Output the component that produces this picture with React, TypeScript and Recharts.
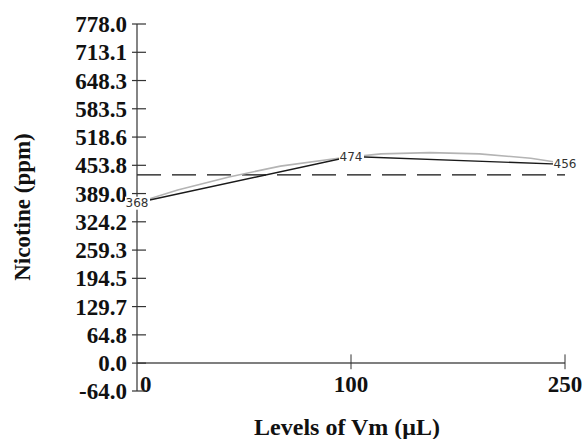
import { LineChart, Line, XAxis, YAxis, ReferenceLine, LabelList } from 'recharts'

// levels of Vm (µL), shown at equal spacing
const levels = ['0', '100', '250']
const levelPos = [0, 1, 2]
const nicotine = [368, 474, 456]

// smoothed (gray) response
const smoothPos = [0, 0.19, 0.43, 0.67, 0.94, 1.14, 1.37, 1.6, 1.84, 2]
const smoothVal = [368, 397, 427, 452, 470, 480, 483, 480, 470, 458]

const meanLevel = 432
const yTicks = [-64.0, 0.0, 64.8, 129.7, 194.5, 259.3, 324.2, 389.0, 453.8, 518.6, 583.5, 648.3, 713.1, 778.0]

const measured = levelPos.map((p, i) => ({ pos: p, value: nicotine[i] }))
const smooth = smoothPos.map((p, i) => ({ pos: p, value: smoothVal[i] }))

const serif = '"Liberation Serif", "Times New Roman", serif'

function YTick(props: any) {
    const { x, y, payload } = props
    return (
        <g>
            <line x1={x - 5} x2={x + 9} y1={y} y2={y} stroke="#333" strokeWidth={1.2} />
            <text
                x={x - 10}
                y={y + 8}
                textAnchor="end"
                fontFamily={serif}
                fontWeight="bold"
                fontSize={23}
                fill="#111"
            >
                {payload.value.toFixed(1)}
            </text>
        </g>
    )
}

function XTick(props: any) {
    const { x, y, payload, index } = props
    return (
        <text
            x={index === 0 ? x + 3 : x}
            y={y + 1}
            textAnchor={index === 0 ? 'start' : 'middle'}
            fontFamily={serif}
            fontWeight="bold"
            fontSize={23}
            fill="#111"
        >
            {levels[payload.value]}
        </text>
    )
}

function PointLabel(props: any) {
    const { x, y, value } = props
    return (
        <g>
            <rect x={x - 12} y={y - 6} width={25} height={13} fill="#fff" />
            <text
                x={x}
                y={y + 4}
                textAnchor="middle"
                fontFamily='"DejaVu Sans", sans-serif'
                fontSize={12}
                fill="#333"
            >
                {value}
            </text>
        </g>
    )
}

export default function App() {
    return (
        <div style={{ position: 'absolute', left: 0, top: 0, width: 584, height: 439, background: '#fff' }}>
            <LineChart width={584} height={439} margin={{ top: 24, right: 19, bottom: 0, left: 57 }}>
                <XAxis
                    type="number"
                    dataKey="pos"
                    domain={[0, 2]}
                    ticks={levelPos}
                    axisLine={false}
                    tickLine={false}
                    tickSize={0}
                    tickMargin={0}
                    tick={<XTick />}
                    height={48}
                    allowDuplicatedCategory={false}
                />
                <YAxis
                    type="number"
                    domain={[-64, 778]}
                    ticks={yTicks}
                    interval={0}
                    width={80}
                    tickSize={0}
                    tickMargin={0}
                    tickLine={false}
                    axisLine={{ stroke: '#333', strokeWidth: 1.2 }}
                    tick={<YTick />}
                />
                <ReferenceLine y={0} stroke="#555" strokeWidth={1.5} />
                <ReferenceLine segment={[{ x: 1, y: -14 }, { x: 1, y: 20 }]} stroke="#333" />
                <ReferenceLine segment={[{ x: 2, y: -14 }, { x: 2, y: 20 }]} stroke="#333" />
                <ReferenceLine y={meanLevel} stroke="#111" strokeWidth={1.3} strokeDasharray="24 11" />
                <Line
                    data={smooth}
                    dataKey="value"
                    type="linear"
                    stroke="#b4b4b4"
                    strokeWidth={1.6}
                    dot={false}
                    isAnimationActive={false}
                />
                <Line
                    data={measured}
                    dataKey="value"
                    type="linear"
                    stroke="#1a1a1a"
                    strokeWidth={1.4}
                    dot={false}
                    isAnimationActive={false}
                >
                    <LabelList dataKey="value" content={<PointLabel />} />
                </Line>
            </LineChart>
            <div
                style={{
                    position: 'absolute',
                    left: 23,
                    top: 207,
                    transform: 'translate(-50%, -50%) rotate(-90deg)',
                    whiteSpace: 'nowrap',
                    fontFamily: serif,
                    fontWeight: 'bold',
                    fontSize: 23,
                    color: '#111',
                }}
            >
                Nicotine (ppm)
            </div>
            <div
                style={{
                    position: 'absolute',
                    left: 347,
                    top: 427,
                    transform: 'translate(-50%, -50%)',
                    whiteSpace: 'nowrap',
                    fontFamily: serif,
                    fontWeight: 'bold',
                    fontSize: 24,
                    color: '#111',
                }}
            >
                Levels of Vm (μL)
            </div>
        </div>
    )
}
